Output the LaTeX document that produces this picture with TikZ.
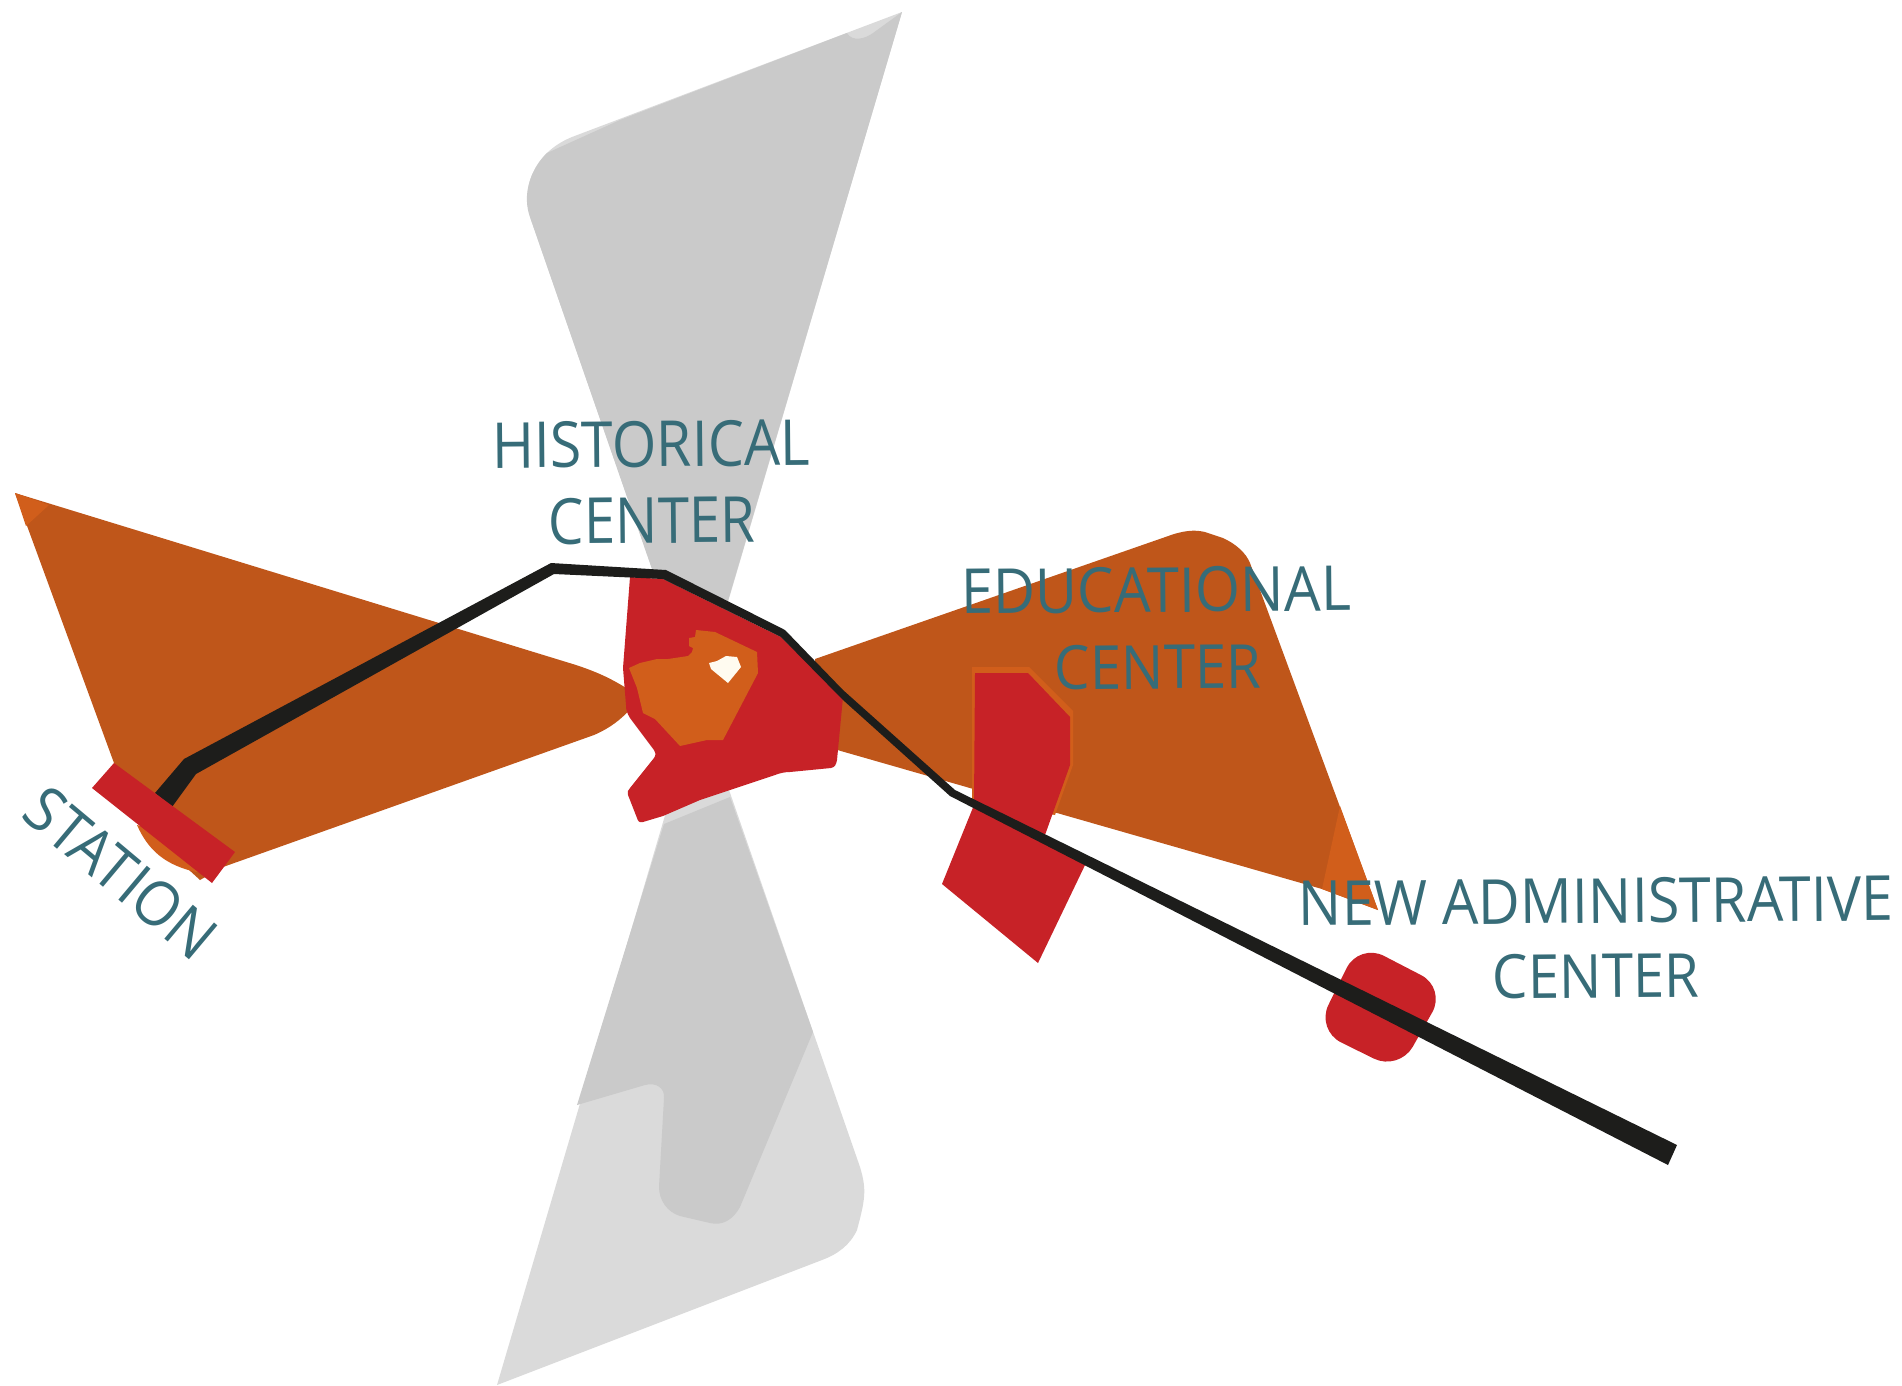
\documentclass[tikz,border=0pt]{standalone}
\usepackage{fontspec}
\setmainfont{Open Sans}
\definecolor{ora}{HTML}{BF561A}
\definecolor{oral}{HTML}{D15E1B}
\definecolor{redd}{HTML}{C72227}
\definecolor{blk}{HTML}{1D1D1B}
\definecolor{txt}{HTML}{376C78}
\definecolor{gd}{HTML}{CACACA}
\definecolor{gl}{HTML}{DADADA}
\definecolor{wht}{HTML}{FFFBF0}
\newcommand{\fitt}[3]{\resizebox{#1pt}{#2pt}{#3}}
\tikzset{lab/.style={text=txt,inner sep=0pt,outer sep=0pt,rotate=0.5}}
\begin{document}
\begin{tikzpicture}[x=1pt,y=-1pt]
\useasboundingbox (0,0) rectangle (1902,1385);
% grey bow-tie
\fill[gl] (902,12) -- (572,137) .. controls (540,150) and (520,180) .. (530,217)
  -- (860,1167) .. controls (867,1190) and (865,1200) .. (857,1230)
  .. controls (850,1245) and (838,1254) .. (822,1260) -- (497,1385) -- cycle;
\fill[gd] (902,12) -- (873,33) .. controls (865,39) and (852,42) .. (847,33)
  -- (620,120) -- (547,153) .. controls (530,170) and (522,195) .. (530,217)
  -- (698,702) -- cycle;
\fill[gd] (664,824) -- (730,797) -- (813,1032) -- (740,1207)
  .. controls (733,1220) and (722,1226) .. (710,1223) -- (680,1216)
  .. controls (667,1212) and (659,1200) .. (659,1187) -- (664,1098)
  .. controls (665,1088) and (656,1082) .. (645,1085) -- (577,1105) -- cycle;
% orange bands
\fill[ora] (15,493) -- (576,665) .. controls (600,673) and (615,680) .. (640,697)
  .. controls (625,718) and (610,728) .. (594,735) -- (223,867) -- (200,880) -- (140,825) -- (114,763) -- cycle;
\fill[oral] (137,825) .. controls (148,850) and (165,865) .. (196,872) -- (223,867) -- (235,852) -- cycle;
\fill[ora] (150,830) -- (205,868) -- (225,866) -- (235,852) -- cycle;
\fill[oral] (15,493) -- (49,505) -- (26,526) -- cycle;
\fill[ora] (815,659) -- (1174,534) .. controls (1188,530) and (1196,530) .. (1205,532)
  -- (1223,538) .. controls (1236,544) and (1246,553) .. (1250,563) -- (1378,910) -- (1322,889) -- (820,745) -- cycle;
\fill[oral] (1340,806) -- (1322,889) -- (1378,910) -- cycle;
% educational center
\fill[oral] (972,667) -- (1029,667) -- (1073,711) -- (1073,765) -- (1055,815) -- (972,800) -- cycle;
\fill[redd] (975,673) -- (1028,673) -- (1070,717) -- (1070,765) -- (1045,835) -- (1086,863)
  -- (1038,963) -- (942,884) -- (974,805) -- cycle;
% historical center
\fill[redd] (630,577) -- (663,579) -- (781,637) -- (843,697) -- (837,760)
  .. controls (836,765) and (835,767) .. (831,768) -- (790,772) .. controls (785,772) and (780,773) .. (775,775)
  -- (700,800) -- (663,816) -- (643,822) .. controls (639,823) and (638,821) .. (637,818)
  -- (628,795) .. controls (627,792) and (628,790) .. (630,788) -- (654,758) .. controls (656,755) and (656,752) .. (654,750)
  -- (630,718) .. controls (627,713) and (626,710) .. (626,705) -- (623,668) -- cycle;
\fill[oral] (629,668) -- (640,663) -- (657,659) -- (668,659) -- (688,656) -- (692,652) -- (693,648) -- (689,646) -- (689,638) -- (695,637) -- (696,630) -- (715,632)
  -- (757,652) -- (758,673) -- (723,740) -- (707,740) -- (680,746) -- (655,719) -- (643,713) -- (637,688) -- cycle;
\fill[wht] (709,663) -- (717,661) -- (726,656) -- (737,657) -- (741,667) -- (728,683) -- (711,669) -- cycle;
% administrative center
\fill[redd,rounded corners=28pt] (1359,943) -- (1446,988) -- (1399,1071) -- (1316,1030) -- cycle;
% connector
\fill[blk] (155,793) -- (184,759) -- (551,563) -- (666,570) -- (785,630) -- (843,690) -- (955,790) -- (1677,1145)
  -- (1668,1165) -- (950,796) -- (843,700) -- (781,637) -- (663,579) -- (554,574) -- (196,774) -- (172,807) -- cycle;
% station
\fill[redd] (114,763) -- (92,788) -- (212,883) -- (235,852) -- cycle;
% labels
\node[lab] (l1) at (651,444) {\fitt{318}{46}{HISTORICAL}};
\node[lab] (l2) at (652,520.5) {\fitt{207}{46}{CENTER}};
\node[lab] (l3) at (1156,590) {\fitt{390}{45}{EDUCATIONAL}};
\node[lab] (l4) at (1158,667) {\fitt{207}{44}{CENTER}};
\node[lab] (l5) at (1596,901) {\fitt{595}{45}{NEW ADMINISTRATIVE}};
\node[lab] (l6) at (1596,976) {\fitt{207}{44}{CENTER}};
\node[lab,rotate=-40.5] (l7) at (121,873) {\fitt{228}{45}{STATION}};
\end{tikzpicture}
\end{document}
